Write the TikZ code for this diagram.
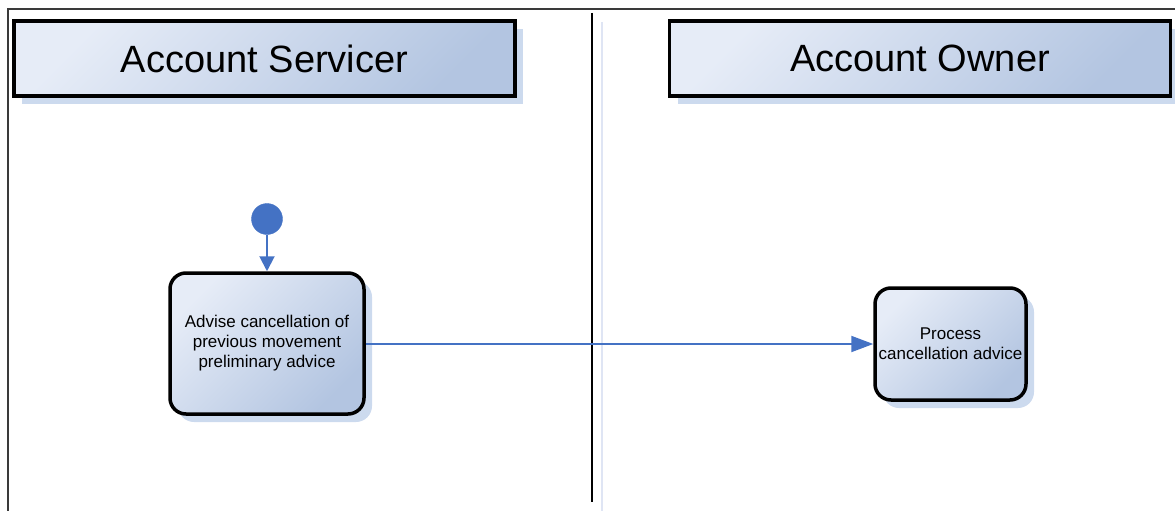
\documentclass[tikz,border=0pt]{standalone}
\usepackage{fontspec}
\setmainfont{Liberation Sans}
\usetikzlibrary{arrows.meta,shadows}
\definecolor{fillA}{HTML}{E6ECF7}
\definecolor{fillB}{HTML}{B3C5E1}
\definecolor{shad}{HTML}{CCDAEE}
\definecolor{flow}{HTML}{4472C4}
\definecolor{frame}{HTML}{3A3A3A}
\definecolor{faint}{HTML}{DFE5F4}
\begin{document}
\begin{tikzpicture}[x=1pt,y=-1pt,
  shadowed/.style={drop shadow={shadow xshift=8pt,shadow yshift=-8pt,fill=shad,opacity=1}},
  hdr/.style={shadowed,draw=black,line width=3.5pt,top color=fillA,bottom color=fillB,shading angle=45,
    minimum width=501pt,minimum height=75pt,inner sep=0pt,font=\fontsize{38}{44}\selectfont},
  act/.style={shadowed,draw=black,line width=3.5pt,rounded corners=16pt,top color=fillA,bottom color=fillB,shading angle=45,
    inner sep=0pt,align=center,font=\fontsize{17}{20}\selectfont},
  startnode/.style={circle,fill=flow,draw=flow,minimum size=31pt,inner sep=0pt},
  flowline/.style={draw=flow,line width=2pt}
]
\useasboundingbox (0,0) rectangle (1175,511);
% frame
\draw[frame,line width=1.5pt] (8,511) -- (8,9) -- (1175,9);
\draw[faint,line width=2pt] (602,22) -- (602,511);
\draw[black,line width=2pt] (592,13) -- (592,502);
% headers
\node[hdr] (h1) at (264.5,58.5) {Account Servicer};
\node[hdr] (h2) at (920,58.5) {Account Owner};
% nodes
\node[startnode] (s) at (267,219) {};
\node[act,minimum width=194pt,minimum height=141pt] (a1) at (267,343.5) {Advise cancellation of\\previous movement\\preliminary advice};
\node[act,minimum width=151pt,minimum height=112pt] (a2) at (950.5,344) {Process\\cancellation advice};
% connectors
\draw[flowline,-{Triangle[length=15pt,width=15pt]}] (s) -- (a1);
\draw[flowline,-{Triangle[length=22pt,width=16pt]}] (a1.east |- 0,344) -- (a2.west |- 0,344);
\end{tikzpicture}
\end{document}
